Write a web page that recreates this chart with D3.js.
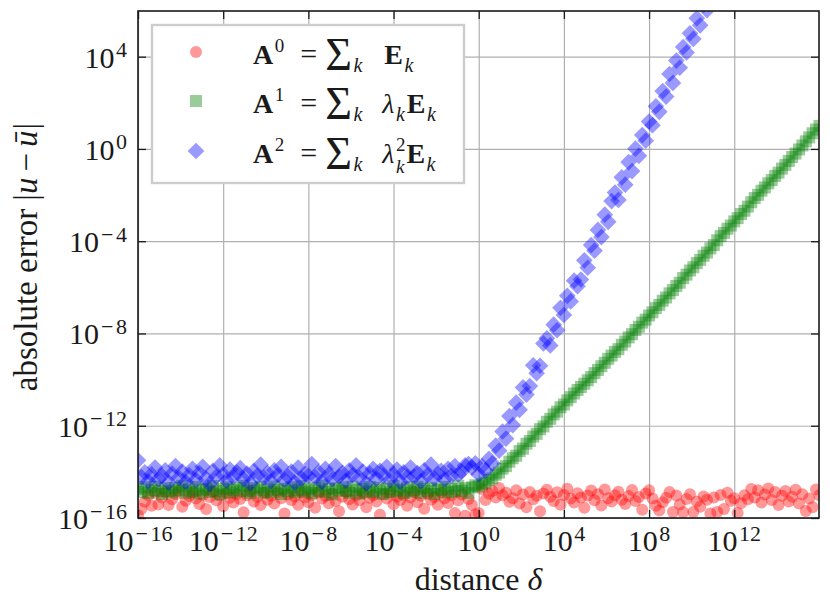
<!DOCTYPE html>
<html>
<head>
<meta charset="utf-8">
<script src="https://cdn.jsdelivr.net/npm/d3@7"></script>
<style>
body { margin: 0; background: #fff; }
svg { display: block; font-family: "Liberation Serif", "DejaVu Serif", serif; }
</style>
</head>
<body>
<svg id="chart" width="830" height="607"></svg>
<script>
// log10 of the distance delta (x of every point)
const delta_exp = [
    -16, -15.84, -15.68, -15.52, -15.36, -15.2, -15.04, -14.88, -14.72, -14.56,
    -14.4, -14.24, -14.08, -13.92, -13.76, -13.6, -13.44, -13.28, -13.12, -12.96,
    -12.8, -12.64, -12.48, -12.32, -12.16, -12, -11.84, -11.68, -11.52, -11.36,
    -11.2, -11.04, -10.88, -10.72, -10.56, -10.4, -10.24, -10.08, -9.92, -9.76,
    -9.6, -9.44, -9.28, -9.12, -8.96, -8.8, -8.64, -8.48, -8.32, -8.16,
    -8, -7.84, -7.68, -7.52, -7.36, -7.2, -7.04, -6.88, -6.72, -6.56,
    -6.4, -6.24, -6.08, -5.92, -5.76, -5.6, -5.44, -5.28, -5.12, -4.96,
    -4.8, -4.64, -4.48, -4.32, -4.16, -4, -3.84, -3.68, -3.52, -3.36,
    -3.2, -3.04, -2.88, -2.72, -2.56, -2.4, -2.24, -2.08, -1.92, -1.76,
    -1.6, -1.44, -1.28, -1.12, -0.96, -0.8, -0.64, -0.48, -0.32, -0.16,
    0, 0.16, 0.32, 0.48, 0.64, 0.8, 0.96, 1.12, 1.28, 1.44,
    1.6, 1.76, 1.92, 2.08, 2.24, 2.4, 2.56, 2.72, 2.88, 3.04,
    3.2, 3.36, 3.52, 3.68, 3.84, 4, 4.16, 4.32, 4.48, 4.64,
    4.8, 4.96, 5.12, 5.28, 5.44, 5.6, 5.76, 5.92, 6.08, 6.24,
    6.4, 6.56, 6.72, 6.88, 7.04, 7.2, 7.36, 7.52, 7.68, 7.84,
    8, 8.16, 8.32, 8.48, 8.64, 8.8, 8.96, 9.12, 9.28, 9.44,
    9.6, 9.76, 9.92, 10.08, 10.24, 10.4, 10.56, 10.72, 10.88, 11.04,
    11.2, 11.36, 11.52, 11.68, 11.84, 12, 12.16, 12.32, 12.48, 12.64,
    12.8, 12.96, 13.12, 13.28, 13.44, 13.6, 13.76, 13.92, 14.08, 14.24,
    14.4, 14.56, 14.72, 14.88, 15.04, 15.2, 15.36, 15.52, 15.68, 15.84,
    16
];

// log10 of the absolute error, A^0
const err_a0_exp = [
    -15.88, -15.61, -15.3, -15.01, -15.47, -14.91, -15.42, -15.11, -14.87, -15.44,
    -15.19, -14.97, -14.83, -15.51, -15.25, -15.05, -14.88, -15.15, -15.39, -15.0,
    -15.61, -15.09, -14.86, -15.23, -15.02, -15.49, -14.93, -15.12, -15.33, -14.97,
    -15.18, -15.75, -15.01, -14.84, -15.28, -15.08, -15.44, -14.9, -15.21, -15.04,
    -15.37, -14.87, -15.14, -15.81, -14.98, -15.22, -15.07, -15.43, -14.91, -15.11,
    -15.32, -15.0, -15.56, -14.88, -15.16, -15.05, -15.36, -14.95, -15.26, -15.71,
    -15.08, -14.86, -15.19, -15.42, -15.02, -15.23, -14.93, -15.53, -15.12, -15.01,
    -15.29, -15.86, -14.97, -15.15, -14.9, -15.4, -15.07, -15.22, -15.0, -15.47,
    -15.11, -14.87, -15.32, -15.04, -15.6, -14.95, -15.21, -15.09, -15.43, -14.91,
    -15.14, -15.35, -15.01, -15.78, -15.23, -14.98, -15.9, -15.18, -15.44, -15.85,
    -15.78, -14.74, -15.22, -14.95, -14.83, -15.11, -14.7, -15.01, -14.9, -15.3,
    -15.14, -14.8, -15.37, -14.98, -15.53, -14.87, -15.19, -15.04, -15.71, -14.94,
    -14.77, -15.08, -15.26, -14.88, -15.43, -15.0, -14.73, -15.16, -15.33, -14.93,
    -15.11, -15.56, -15.02, -14.81, -15.23, -14.97, -15.46, -14.76, -15.14, -15.29,
    -15.01, -14.86, -15.21, -15.39, -15.05, -14.79, -15.26, -15.09, -15.64, -14.94,
    -14.8, -15.15, -15.47, -15.67, -15.32, -15.12, -14.87, -15.74, -15.02, -15.42,
    -15.75, -15.18, -14.97, -15.74, -15.29, -15.51, -15.07, -15.21, -15.8, -15.11,
    -15.74, -15.0, -15.61, -14.9, -15.25, -15.14, -15.78, -15.36, -15.01, -15.19,
    -14.74, -15.11, -14.8, -15.33, -14.98, -14.72, -15.22, -14.87, -15.44, -15.04,
    -14.83, -15.29, -15.08, -14.77, -15.37, -14.97, -15.7, -15.16, -15.53, -14.76,
    -15.01
];

// log10 of the absolute error, A^1
const err_a1_exp = [
    -14.74, -14.87, -14.67, -14.92, -14.78, -14.64, -14.83, -14.96, -14.71, -14.82,
    -14.89, -14.69, -14.8, -14.6, -14.91, -14.76, -14.85, -14.65, -14.94, -14.78,
    -14.73, -14.87, -14.62, -14.83, -14.98, -14.74, -14.67, -14.89, -14.78, -14.69,
    -14.85, -14.6, -14.82, -14.92, -14.71, -14.8, -14.65, -14.91, -14.76, -14.87,
    -14.64, -14.78, -14.96, -14.73, -14.83, -14.67, -14.89, -14.78, -14.62, -14.85,
    -14.76, -14.92, -14.69, -14.82, -14.6, -14.87, -14.74, -14.98, -14.71, -14.8,
    -14.67, -14.83, -14.91, -14.64, -14.78, -14.94, -14.73, -14.85, -14.65, -14.89,
    -14.8, -14.69, -14.96, -14.74, -14.87, -14.62, -14.82, -14.76, -14.92, -14.67,
    -14.85, -14.78, -14.64, -14.91, -14.73, -14.83, -14.69, -14.96, -14.76, -14.8,
    -14.65, -14.89, -14.74, -14.85, -14.6, -14.82, -14.71, -14.92, -14.67, -14.58,
    -14.63, -14.52, -14.47, -14.35, -14.28, -14.12, -14.03, -13.86, -13.75, -13.56,
    -13.41, -13.3, -13.1, -12.99, -12.78, -12.66, -12.47, -12.35, -12.15, -12.03,
    -11.83, -11.7, -11.51, -11.39, -11.2, -11.08, -10.9, -10.76, -10.6, -10.45,
    -10.32, -10.18, -10.03, -9.89, -9.72, -9.58, -9.42, -9.27, -9.1, -8.96,
    -8.8, -8.68, -8.49, -8.35, -8.17, -8.03, -7.85, -7.71, -7.53, -7.4,
    -7.22, -7.08, -6.9, -6.76, -6.58, -6.44, -6.26, -6.12, -5.94, -5.8,
    -5.6, -5.45, -5.27, -5.13, -4.95, -4.81, -4.63, -4.49, -4.31, -4.17,
    -3.96, -3.78, -3.64, -3.46, -3.32, -3.14, -3.0, -2.82, -2.68, -2.5,
    -2.31, -2.13, -1.99, -1.81, -1.67, -1.49, -1.35, -1.17, -1.03, -0.85,
    -0.69, -0.52, -0.35, -0.2, -0.02, 0.15, 0.33, 0.5, 0.68, 0.84,
    1.0
];

// log10 of the absolute error, A^2 (points above the frame are not readable)
const err_a2_exp = [
    -13.5, -14.23, -14.02, -14.41, -14.11, -13.81, -14.32, -14.17, -13.93, -14.47,
    -14.08, -13.75, -14.26, -13.99, -14.44, -14.14, -13.87, -14.35, -14.05, -13.78,
    -14.29, -14.53, -13.96, -14.2, -13.72, -14.11, -14.38, -13.9, -14.23, -14.02,
    -13.84, -14.32, -14.08, -14.5, -13.96, -14.17, -13.69, -14.26, -14.05, -14.41,
    -13.93, -14.14, -13.78, -14.35, -14.2, -13.99, -14.47, -13.81, -14.29, -14.08,
    -14.17, -13.66, -14.23, -14.02, -14.44, -13.87, -14.11, -14.32, -13.75, -14.2,
    -14.05, -14.38, -13.93, -14.14, -13.72, -14.26, -13.99, -14.5, -14.08, -13.87,
    -14.29, -13.96, -14.17, -13.78, -14.35, -14.11, -13.9, -14.44, -14.02, -14.23,
    -13.81, -14.2, -14.05, -14.41, -13.93, -14.14, -13.69, -14.29, -14.08, -13.96,
    -14.32, -13.87, -14.17, -13.75, -14.11, -13.99, -13.72, -13.66, -13.81, -13.63,
    -14.11, -13.76, -13.95, -13.43, -13.63, -12.86, -13.08, -12.25, -12.56, -11.58,
    -11.97, -11.0, -11.31, -10.34, -10.65, -10.28, -9.38, -9.72, -9.4, -8.43,
    -8.21, -8.52, -7.62, -7.86, -6.89, -7.2, -6.37, -6.61, -5.71, -5.95,
    -5.66, -4.83, -5.15, -4.17, -4.41, -3.51, -3.82, -2.85, -3.16, -2.26,
    -1.89, -2.21, -1.23, -1.55, -0.57, -0.96, 0.01, -0.3, 0.6, 0.36,
    1.19, 1.03, 1.85, 1.61, 2.51, 2.27, 3.25, 2.86, 3.83, 3.52,
    4.42, 4.18, 5.01, 4.77, 5.67, 5.36, 6.25, 6.02
];

const x_tick_exp = [-16, -12, -8, -4, 0, 4, 8, 12];
const y_tick_exp = [-16, -12, -8, -4, 0, 4];

const series_names = ['a0', 'a1', 'a2'];
const series_colors = ['#ff0000', '#008000', '#0000ff'];

// legend labels as math tokens: [text, kind]
const legend_labels = [
    [['A', 'bold'], ['0', 'sup'], ['=', 'rel'], ['\u03a3', 'op'], ['k', 'sub'], [' ', 'gap'], ['E', 'bold'], ['k', 'sub']],
    [['A', 'bold'], ['1', 'sup'], ['=', 'rel'], ['\u03a3', 'op'], ['k', 'sub'], [' ', 'gap'], ['\u03bb', 'ital'], ['k', 'sub'], ['E', 'bold'], ['k', 'sub']],
    [['A', 'bold'], ['2', 'sup'], ['=', 'rel'], ['\u03a3', 'op'], ['k', 'sub'], [' ', 'gap'], ['\u03bb', 'ital'], ['2', 'sup'], ['k', 'under'], ['E', 'bold'], ['k', 'sub']]
];

let plot_left = 138, plot_right = 819, plot_top = 11, plot_bottom = 518;
let dark = '#1a1a1a';

let svg = d3.select('#chart');

let x = d3.scaleLog().domain([1e-16, Math.pow(10, 15.98)]).range([plot_left, plot_right]);
let y = d3.scaleLog().domain([1e-16, Math.pow(10, 5.98)]).range([plot_bottom, plot_top]);

let x_ticks = x_tick_exp.map(e => Math.pow(10, e));
let y_ticks = y_tick_exp.map(e => Math.pow(10, e));

function style_axis(g, color, width) {
    g.select('.domain').remove();
    g.selectAll('line').attr('stroke', color).attr('stroke-width', width);
}

// grid
svg.append('g')
    .attr('transform', 'translate(0,' + plot_bottom + ')')
    .call(d3.axisBottom(x).tickValues(x_ticks).tickSize(-(plot_bottom - plot_top)).tickSizeOuter(0).tickFormat(''))
    .call(g => style_axis(g, '#b0b0b0', 1.2));
svg.append('g')
    .attr('transform', 'translate(' + plot_left + ',0)')
    .call(d3.axisLeft(y).tickValues(y_ticks).tickSize(-(plot_right - plot_left)).tickSizeOuter(0).tickFormat(''))
    .call(g => style_axis(g, '#b0b0b0', 1.2));

// points
svg.append('clipPath').attr('id', 'plot-clip')
    .append('rect')
    .attr('x', plot_left).attr('y', plot_top)
    .attr('width', plot_right - plot_left).attr('height', plot_bottom - plot_top);

let points = svg.append('g').attr('clip-path', 'url(#plot-clip)');

let square_path = d3.symbol().type(d3.symbolSquare).size(12 * 12)();
let diamond_path = d3.symbol().type(d3.symbolSquare).size(11.8 * 11.8)();

function draw_marker(sel, kind, color) {
    if (kind === 'a0') {
        sel.append('circle').attr('r', 6).attr('fill', color).attr('fill-opacity', 0.4);
    } else if (kind === 'a1') {
        sel.append('path').attr('d', square_path).attr('fill', color).attr('fill-opacity', 0.4);
    } else {
        sel.append('path').attr('d', diamond_path).attr('transform', 'rotate(45)')
            .attr('fill', color).attr('fill-opacity', 0.4);
    }
}

let series_values = [err_a0_exp, err_a1_exp, err_a2_exp];

series_values.forEach(function (values, s) {
    points.append('g')
        .selectAll('g')
        .data(values)
        .enter()
        .append('g')
        .attr('transform', (d, i) => 'translate(' + x(Math.pow(10, delta_exp[i])) + ',' + y(Math.pow(10, d)) + ')')
        .each(function () {
            draw_marker(d3.select(this), series_names[s], series_colors[s]);
        });
});

// inward ticks on all four sides
svg.append('g').attr('transform', 'translate(0,' + plot_bottom + ')')
    .call(d3.axisBottom(x).tickValues(x_ticks).tickSize(-8).tickSizeOuter(0).tickFormat(''))
    .call(g => style_axis(g, dark, 1.3));
svg.append('g').attr('transform', 'translate(0,' + plot_top + ')')
    .call(d3.axisTop(x).tickValues(x_ticks).tickSize(-8).tickSizeOuter(0).tickFormat(''))
    .call(g => style_axis(g, dark, 1.3));
svg.append('g').attr('transform', 'translate(' + plot_left + ',0)')
    .call(d3.axisLeft(y).tickValues(y_ticks).tickSize(-8).tickSizeOuter(0).tickFormat(''))
    .call(g => style_axis(g, dark, 1.3));
svg.append('g').attr('transform', 'translate(' + plot_right + ',0)')
    .call(d3.axisRight(y).tickValues(y_ticks).tickSize(-8).tickSizeOuter(0).tickFormat(''))
    .call(g => style_axis(g, dark, 1.3));

svg.append('rect')
    .attr('x', plot_left).attr('y', plot_top)
    .attr('width', plot_right - plot_left).attr('height', plot_bottom - plot_top)
    .attr('fill', 'none').attr('stroke', dark).attr('stroke-width', 1.6);

// tick labels 10^e
function write_power(text_sel, e) {
    text_sel.append('tspan').text('10');
    if (e < 0) {
        text_sel.append('tspan').attr('font-size', 22).attr('dy', -10.5).attr('dx', 2).text('\u2212');
        text_sel.append('tspan').attr('font-size', 22).attr('dx', 2.5).text(String(-e));
    } else {
        text_sel.append('tspan').attr('font-size', 22).attr('dy', -10.5).attr('dx', 1.5).text(String(e));
    }
}

x_tick_exp.forEach(function (e) {
    let t = svg.append('text')
        .attr('x', x(Math.pow(10, e)))
        .attr('y', plot_bottom + 33)
        .attr('text-anchor', 'middle')
        .attr('font-size', 30)
        .attr('fill', dark);
    write_power(t, e);
});

y_tick_exp.forEach(function (e) {
    let t = svg.append('text')
        .attr('x', plot_left - 11)
        .attr('y', y(Math.pow(10, e)) + 11)
        .attr('text-anchor', 'end')
        .attr('font-size', 30)
        .attr('fill', dark);
    write_power(t, e);
});

// axis titles
let x_title = svg.append('text')
    .attr('x', (plot_left + plot_right) / 2)
    .attr('y', 590)
    .attr('text-anchor', 'middle')
    .attr('font-size', 32)
    .attr('fill', dark);
x_title.append('tspan').text('distance ');
x_title.append('tspan').attr('font-style', 'italic').text('\u03b4');

let y_title = svg.append('text')
    .attr('transform', 'translate(37,257) rotate(-90)')
    .attr('text-anchor', 'middle')
    .attr('font-size', 33)
    .attr('fill', dark);
y_title.append('tspan').text('absolute error |');
y_title.append('tspan').attr('font-style', 'italic').text('u');
y_title.append('tspan').attr('dx', 6).text('\u2212');
y_title.append('tspan').attr('dx', 6).attr('font-style', 'italic').text('\u016b');
y_title.append('tspan').attr('dx', 1).text('|');

// legend
let kind_style = {
    bold: {size: 28, weight: 'bold', shift: 0, pre: 2},
    ital: {size: 28, italic: true, shift: 0, pre: 0},
    sup: {size: 19, shift: -12, pre: 1.5},
    sub: {size: 20, italic: true, shift: 8, pre: 1.5},
    under: {size: 19, italic: true, shift: 9.5, pre: -9.5},
    rel: {size: 30, shift: 0, pre: 16, post: 8},
    op: {size: 46, shift: 6, pre: 0}
};

let legend = svg.append('g');
legend.append('rect')
    .attr('x', 152).attr('y', 25)
    .attr('width', 312).attr('height', 158)
    .attr('fill', '#fff')
    .attr('stroke', '#cccccc')
    .attr('stroke-width', 2.4);

let legend_rows = [52, 101, 151];

legend_labels.forEach(function (tokens, r) {
    let marker = legend.append('g').attr('transform', 'translate(196,' + legend_rows[r] + ')');
    draw_marker(marker, series_names[r], series_colors[r]);

    let label = legend.append('text')
        .attr('x', 251)
        .attr('y', legend_rows[r] + 12)
        .attr('fill', dark);

    let current_shift = 0;
    let pending = 0;
    tokens.forEach(function (tok) {
        if (tok[1] === 'gap') {
            pending += 20;
            return;
        }
        let st = kind_style[tok[1]];
        let span = label.append('tspan')
            .attr('font-size', st.size)
            .attr('dx', pending + st.pre)
            .attr('dy', st.shift - current_shift)
            .text(tok[0]);
        if (st.weight) span.attr('font-weight', st.weight);
        if (st.italic) span.attr('font-style', 'italic');
        current_shift = st.shift;
        pending = st.post || 0;
    });
});
</script>
</body>
</html>
